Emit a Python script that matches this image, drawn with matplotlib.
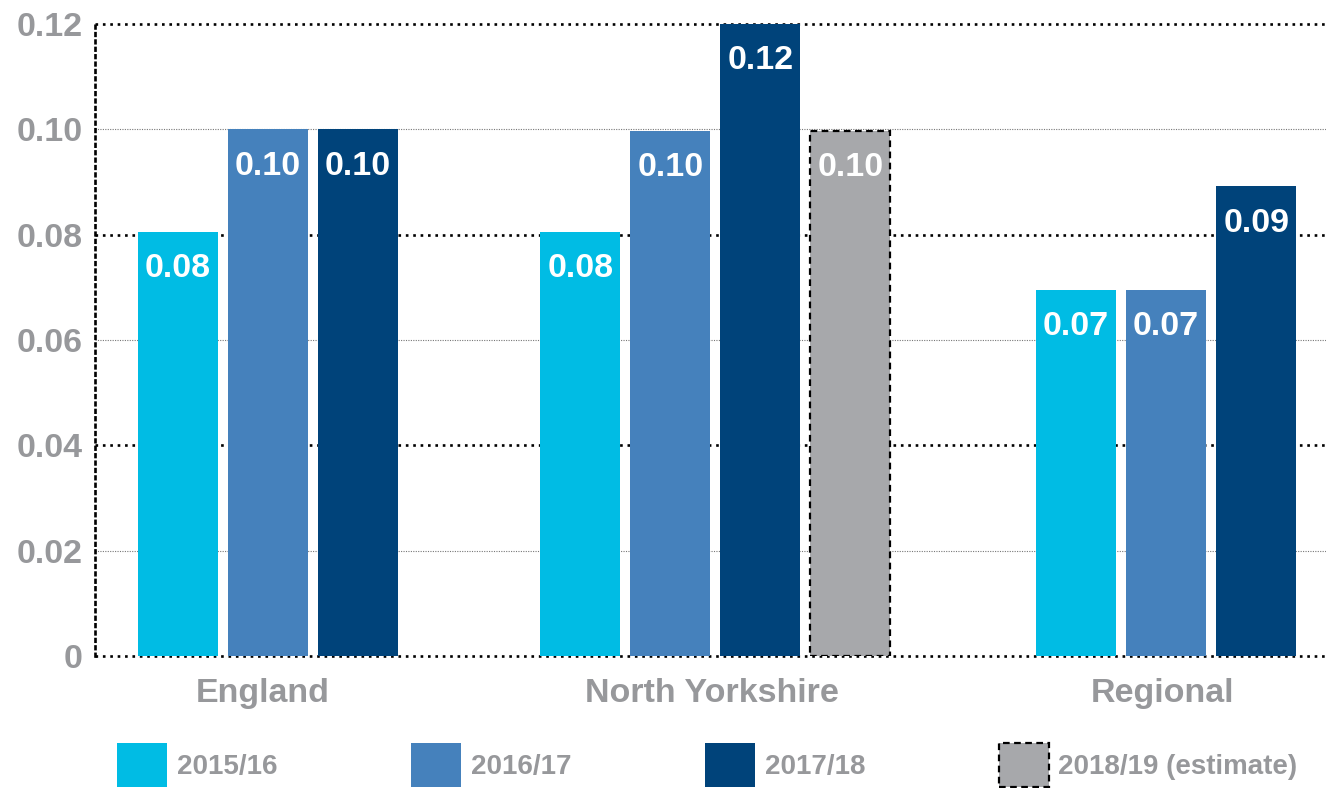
import matplotlib.pyplot as plt
from matplotlib.patches import Patch

# Data
groups = ["England", "North Yorkshire", "Regional"]
series = ["2015/16", "2016/17", "2017/18", "2018/19 (estimate)"]
england = [0.0805, 0.100, 0.100]
north_yorkshire = [0.0805, 0.0997, 0.120, 0.0997]
regional = [0.0695, 0.0695, 0.0892]
bar_labels = {
    "England": ["0.08", "0.10", "0.10"],
    "North Yorkshire": ["0.08", "0.10", "0.12", "0.10"],
    "Regional": ["0.07", "0.07", "0.09"],
}
y_ticks = [0, 0.02, 0.04, 0.06, 0.08, 0.10, 0.12]
y_tick_labels = ["0", "0.02", "0.04", "0.06", "0.08", "0.10", "0.12"]

# Styles
colors = ["#00BCE4", "#4581BC", "#00437A", "#A7A8AB"]
text_gray = "#97989B"
font = "Liberation Sans"
group_starts = [0, 4.47, 9.98]
bar_width = 0.89

plt.rcParams["font.family"] = [font, "DejaVu Sans"]
plt.rcParams["font.weight"] = "bold"

fig = plt.figure(figsize=(13.26, 7.88), dpi=100)
ax = fig.add_axes([95 / 1326, 1 - 656 / 788, 1 - 95 / 1326, (656 - 24) / 788])

values = [england, north_yorkshire, regional]
for g, (name, vals) in enumerate(zip(groups, values)):
    for i, v in enumerate(vals):
        x = group_starts[g] + i
        if i == 3:
            ax.bar(x, v, width=bar_width, color=colors[i], edgecolor="black",
                   linewidth=1.6, linestyle=(0, (3, 2)), zorder=3)
        else:
            ax.bar(x, v, width=bar_width, color=colors[i], linewidth=0, zorder=3)
        ax.annotate(bar_labels[name][i], xy=(x, v), xytext=(0, -26.5),
                    textcoords="offset points", ha="center", va="center",
                    color="white", fontsize=24.5, fontweight="bold", zorder=4)

# Gridlines: alternating black / grey dotted
for k, t in enumerate(y_ticks):
    if k % 2 == 0:
        ax.axhline(t, color="black", linewidth=1.9, linestyle=(0, (1, 1.8)), zorder=1,
                   clip_on=False)
    else:
        ax.axhline(t, color="#777777", linewidth=0.8, linestyle=(0, (1, 1.2)), zorder=1)

ax.set_ylim(0, 0.12)
ax.set_xlim(-0.922, 12.756)
ax.set_yticks(y_ticks)
ax.set_yticklabels(y_tick_labels)

group_centers = [group_starts[0] + 0.94, group_starts[1] + 1.46, group_starts[2] + 0.96]
ax.set_xticks(group_centers)
ax.set_xticklabels(groups)

ax.tick_params(axis="both", length=0, labelsize=24.5, labelcolor=text_gray)
ax.tick_params(axis="y", pad=9)
ax.tick_params(axis="x", pad=16)
for lab in ax.get_xticklabels() + ax.get_yticklabels():
    lab.set_fontweight("bold")

for side in ["top", "right", "bottom"]:
    ax.spines[side].set_visible(False)
ax.spines["left"].set_linestyle((0, (1, 1.8)))
ax.spines["left"].set_linewidth(1.9)
ax.spines["left"].set_color("black")

# Legend
handles = [Patch(facecolor=colors[0], linewidth=0),
           Patch(facecolor=colors[1], linewidth=0),
           Patch(facecolor=colors[2], linewidth=0),
           Patch(facecolor=colors[3], edgecolor="black", linewidth=1.6, linestyle=(0, (3, 2)))]
leg = fig.legend(handles, series, loc="center left", bbox_to_anchor=(117 / 1326, 1 - 765 / 788),
                 ncol=4, frameon=False, borderpad=0, borderaxespad=0,
                 handlelength=1.8, handleheight=2.05, handletextpad=0.36, columnspacing=4.8,
                 labelcolor=text_gray, prop={"family": font, "weight": "bold", "size": 20})

fig.savefig("out.png", dpi=100, facecolor="white")
